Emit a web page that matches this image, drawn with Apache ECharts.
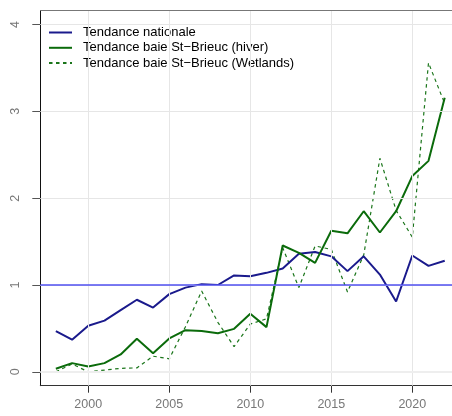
<!DOCTYPE html>
<html>
<head>
<meta charset="utf-8">
<script src="https://cdn.jsdelivr.net/npm/echarts@6/dist/echarts.min.js"></script>
<style>html,body{margin:0;padding:0;background:#fff;}#c{width:452px;height:416px;}</style>
</head>
<body>
<div id="c"></div>
<script>
const years = [1998,1999,2000,2001,2002,2003,2004,2005,2006,2007,2008,2009,2010,2011,2012,2013,2014,2015,2016,2017,2018,2019,2020,2021,2022];
const nationale = [0.47,0.37,0.53,0.59,0.71,0.83,0.74,0.895,0.97,1.01,1.00,1.11,1.10,1.14,1.19,1.36,1.38,1.33,1.16,1.33,1.12,0.81,1.34,1.22,1.28];
const hiver = [0.035,0.10,0.06,0.10,0.20,0.38,0.215,0.385,0.48,0.47,0.445,0.495,0.67,0.515,1.455,1.37,1.255,1.625,1.595,1.85,1.605,1.85,2.255,2.43,3.157];
const wetlands = [0.0,0.09,0.0,0.02,0.04,0.045,0.18,0.15,0.52,0.93,0.57,0.29,0.55,0.61,1.43,0.97,1.45,1.41,0.92,1.345,2.46,1.86,1.55,3.56,3.09];
const xTicks = [2000,2005,2010,2015,2020];
const yTicks = [0,1,2,3,4];
const refLine = 1;
const names = ['Tendance nationale','Tendance baie St\u2212Brieuc (hiver)','Tendance baie St\u2212Brieuc (Wetlands)'];

const pairs = arr => years.map((y,i)=>[y,arr[i]]);
const font = 'Liberation Sans, Arial, Helvetica, sans-serif';
const gridColor = '#e6e6e6';

const chart = echarts.init(document.getElementById('c'), null, {renderer:'canvas'});
chart.setOption({
  animation:false,
  backgroundColor:'#fff',
  grid:{left:40.3, top:10.7, right:0, bottom:30.3, containLabel:false, show:false},
  legend:{
    orient:'vertical', left:43, top:20,
    itemWidth:23, itemHeight:15, itemGap:0.3,
    itemStyle:{color:'rgba(0,0,0,0)', borderWidth:0, opacity:0},
    textStyle:{fontFamily:font, fontSize:13, color:'#000', lineHeight:15, padding:[0,0,0,6]},
    data:names
  },
  xAxis:{
    type:'value', min:1997.04, max:2022.45,
    axisLine:{show:true, onZero:false, lineStyle:{color:'#333', width:1}},
    axisTick:{show:true, length:7, customValues:xTicks, lineStyle:{color:'#333'}},
    axisLabel:{customValues:xTicks, margin:12, color:'#777', fontFamily:font, fontSize:12.5, formatter:v=>String(v)},
    splitLine:{show:false}
  },
  yAxis:{
    type:'value', min:-0.16, max:4.16,
    axisLine:{show:true, onZero:false, lineStyle:{color:'#111', width:1}},
    axisTick:{show:true, length:8, customValues:yTicks, lineStyle:{color:'#555'}},
    axisLabel:{customValues:yTicks, rotate:90, margin:18, color:'#777', fontFamily:font, fontSize:12.5, formatter:v=>String(v)},
    splitLine:{show:false}
  },
  series:[
    {
      type:'line', name:'_grid', data:[], silent:true, z:0,
      markLine:{
        silent:true, symbol:'none', label:{show:false}, animation:false,
        lineStyle:{color:gridColor, width:1, type:'solid'},
        data:[
          ...xTicks.map(v=>({xAxis:v})),
          ...yTicks.map(v=>({yAxis:v, lineStyle:{width: v===0?2:1, color: v===0?'#eeeeee':gridColor}})),
          [{coord:[1997.04,4.16]},{coord:[2022.45,4.16], lineStyle:{color:'#777', width:1.2}}]
        ]
      }
    },
    {
      type:'line', name:'_ref', data:[], silent:true, z:1,
      markLine:{
        silent:true, symbol:'none', label:{show:false}, animation:false,
        lineStyle:{color:'#5050f0', width:1.5, type:'solid'},
        data:[{yAxis:refLine}]
      }
    },
    {
      type:'line', name:names[0], data:pairs(nationale), symbol:'none', showSymbol:false, z:3,
      lineStyle:{color:'#1a1a8c', width:2}, itemStyle:{color:'#1a1a8c'}
    },
    {
      type:'line', name:names[1], data:pairs(hiver), symbol:'none', showSymbol:false, z:3,
      lineStyle:{color:'#0b6b0b', width:2}, itemStyle:{color:'#0b6b0b'}
    },
    {
      type:'line', name:names[2], data:pairs(wetlands), symbol:'none', showSymbol:false, z:2,
      lineStyle:{color:'#1a751a', width:1.2, type:[3.5,3.5]}, itemStyle:{color:'#1a751a'}
    }
  ]
});
</script>
</body>
</html>
